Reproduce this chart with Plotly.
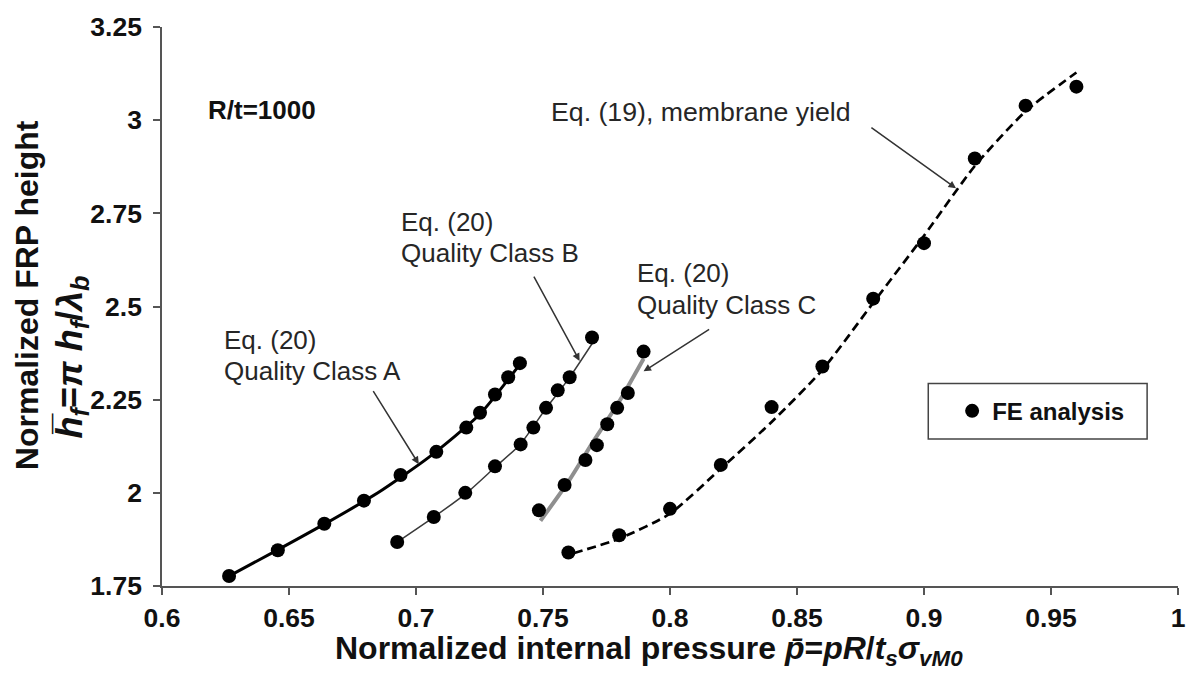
import plotly.graph_objects as go

# ---------------- data ----------------
# FE analysis points
fe_a_x = [0.6264, 0.6456, 0.6639, 0.6795, 0.6939, 0.708, 0.7198, 0.7252, 0.7311, 0.7363, 0.7409]
fe_a_y = [1.777, 1.846, 1.917, 1.979, 2.048, 2.11, 2.175, 2.215, 2.264, 2.31, 2.348]
fe_b_x = [0.6926, 0.707, 0.7194, 0.7311, 0.7412, 0.7462, 0.7512, 0.7558, 0.7605, 0.7693]
fe_b_y = [1.868, 1.935, 2.0, 2.071, 2.13, 2.175, 2.228, 2.275, 2.31, 2.417]
fe_c_x = [0.7484, 0.7585, 0.7667, 0.7712, 0.7753, 0.7792, 0.7834, 0.7896]
fe_c_y = [1.953, 2.021, 2.088, 2.128, 2.184, 2.228, 2.268, 2.379]
fe_m_x = [0.76, 0.78, 0.80, 0.82, 0.84, 0.86, 0.88, 0.90, 0.92, 0.94, 0.96]
fe_m_y = [1.84, 1.886, 1.957, 2.075, 2.23, 2.339, 2.521, 2.67, 2.897, 3.039, 3.09]

# Eq. (20) curves, quality classes A, B, C
eq_a_x = [0.626, 0.645, 0.665, 0.685, 0.705, 0.725, 0.742]
eq_a_y = [1.775, 1.845, 1.92, 2.0, 2.095, 2.21, 2.355]
eq_b_x = [0.6926, 0.707, 0.72, 0.731, 0.741, 0.751, 0.760, 0.7693]
eq_b_y = [1.868, 1.935, 2.0, 2.068, 2.13, 2.225, 2.305, 2.400]
eq_c_x = [0.749, 0.760, 0.770, 0.780, 0.7896]
eq_c_y = [1.925, 2.03, 2.14, 2.245, 2.36]
# Eq. (19) membrane yield
eq_m_x = [0.762, 0.78, 0.80, 0.82, 0.84, 0.86, 0.88, 0.90, 0.92, 0.94, 0.96]
eq_m_y = [1.838, 1.877, 1.944, 2.065, 2.19, 2.33, 2.51, 2.69, 2.877, 3.024, 3.128]

x_ticks = [0.6, 0.65, 0.7, 0.75, 0.8, 0.85, 0.9, 0.95, 1.0]
x_tick_text = ["0.6", "0.65", "0.7", "0.75", "0.8", "0.85", "0.9", "0.95", "1"]
y_ticks = [1.75, 2.0, 2.25, 2.5, 2.75, 3.0, 3.25]
y_tick_text = ["1.75", "2", "2.25", "2.5", "2.75", "3", "3.25"]

FONT = "Liberation Sans, Arial, sans-serif"

fig = go.Figure()

# curves (drawn below the markers)
fig.add_trace(go.Scatter(x=eq_c_x, y=eq_c_y, mode="lines", showlegend=False,
                         line=dict(color="#8f8f8f", width=4, shape="spline", smoothing=0.6)))
fig.add_trace(go.Scatter(x=eq_a_x, y=eq_a_y, mode="lines", showlegend=False,
                         line=dict(color="#000000", width=3, shape="spline", smoothing=0.6)))
fig.add_trace(go.Scatter(x=eq_b_x, y=eq_b_y, mode="lines", showlegend=False,
                         line=dict(color="#3a3a3a", width=1.5, shape="spline", smoothing=0.6)))
fig.add_trace(go.Scatter(x=eq_m_x, y=eq_m_y, mode="lines", showlegend=False,
                         line=dict(color="#000000", width=2.7, dash="9px,5px", shape="spline", smoothing=0.6)))

marker = dict(color="#000000", size=14, symbol="circle")
for i, (xs, ys) in enumerate([(fe_a_x, fe_a_y), (fe_b_x, fe_b_y), (fe_c_x, fe_c_y), (fe_m_x, fe_m_y)]):
    fig.add_trace(go.Scatter(x=xs, y=ys, mode="markers", marker=marker,
                             name="FE analysis", legendgroup="fe", showlegend=(i == 0)))

ann = []
def txt(x, y, s, size=26, bold=False, color="#262626"):
    ann.append(dict(x=x, y=y, xref="x", yref="y", text=(f"<b>{s}</b>" if bold else s),
                    showarrow=False, xanchor="left", yanchor="middle",
                    font=dict(family=FONT, size=size, color=color)))

def arrow(x0, y0, x1, y1):
    ann.append(dict(x=x1, y=y1, ax=x0, ay=y0, xref="x", yref="y", axref="x", ayref="y",
                    text="", showarrow=True, arrowhead=2, arrowsize=1, arrowwidth=1.5,
                    arrowcolor="#333333"))

txt(0.6172, 3.027, "R/t=1000", size=26, bold=True, color="#111111")
txt(0.7524, 3.022, "Eq. (19), membrane yield", size=26.7)
txt(0.6932, 2.728, "Eq. (20)")
txt(0.6932, 2.644, "Quality Class B")
txt(0.7861, 2.589, "Eq. (20)")
txt(0.7861, 2.505, "Quality Class C")
txt(0.6235, 2.411, "Eq. (20)")
txt(0.6235, 2.328, "Quality Class A")

arrow(0.6828, 2.277, 0.7011, 2.077)
arrow(0.7461, 2.584, 0.7644, 2.354)
arrow(0.816, 2.4415, 0.7896, 2.326)
arrow(0.8787, 2.983, 0.9126, 2.817)

# axis titles
ann.append(dict(xref="paper", yref="paper", x=0.479, y=-0.115, xanchor="center", yanchor="middle",
                showarrow=False,
                text="<b>Normalized internal pressure <i>p\u0304</i>=<i>pR</i>/<i>t</i><sub><i>s</i></sub><i>\u03c3</i><sub><i>vM0</i></sub></b>",
                font=dict(family=FONT, size=32, color="#111111")))
ann.append(dict(xref="paper", y=0.52, yref="paper", x=-0.133, xanchor="center", yanchor="middle",
                showarrow=False, textangle=-90,
                text="<b>Normalized FRP height</b>",
                font=dict(family=FONT, size=32, color="#111111")))
ann.append(dict(xref="paper", y=0.41, yref="paper", x=-0.089, xanchor="center", yanchor="middle",
                showarrow=False, textangle=-90,
                text="<b><i>h\u0305</i><sub><i>f</i></sub>=<i>\u03c0 h</i><sub><i>f</i></sub>/<i>\u03bb</i><sub><i>b</i></sub></b>",
                font=dict(family=FONT, size=36, color="#111111")))

# legend frame
shapes = [dict(type="rect", xref="paper", yref="paper", x0=0.7542, x1=0.9696, y0=0.2629, y1=0.3623,
               line=dict(color="#444444", width=1.5), fillcolor="white", layer="below")]

fig.update_layout(
    width=1197, height=682,
    margin=dict(l=162, r=14, t=23, b=96),
    paper_bgcolor="white", plot_bgcolor="white",
    font=dict(family=FONT, color="#111111"),
    annotations=ann,
    shapes=shapes,
    legend=dict(x=0.7777, y=0.3126, xanchor="left", yanchor="middle",
                borderwidth=0, bgcolor="rgba(0,0,0,0)",
                font=dict(family=FONT, size=24, color="#111111", weight="bold"),
                itemwidth=30, tracegroupgap=0),
    xaxis=dict(range=[0.6, 1.0], tickvals=x_ticks, ticktext=x_tick_text,
               showgrid=False, zeroline=False, showline=True, linecolor="#555555", linewidth=1.5,
               ticks="outside", ticklen=7, tickwidth=1.5, tickcolor="#555555",
               tickfont=dict(family=FONT, size=26.5, color="#111111", weight="bold")),
    yaxis=dict(range=[1.75, 3.25], tickvals=y_ticks, ticktext=y_tick_text,
               showgrid=False, zeroline=False, showline=True, linecolor="#555555", linewidth=1.5,
               ticks="outside", ticklen=7, tickwidth=1.5, tickcolor="#555555", ticklabelstandoff=6,
               tickfont=dict(family=FONT, size=26.5, color="#111111", weight="bold")),
)

fig.write_html("out.html")
